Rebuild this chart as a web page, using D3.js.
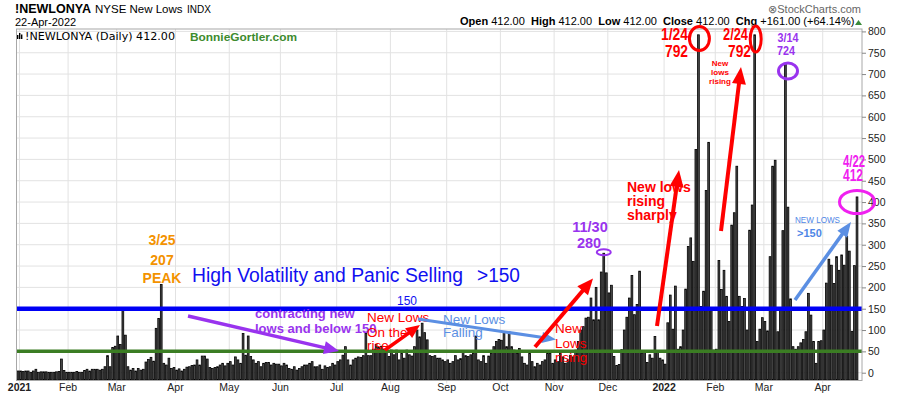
<!DOCTYPE html>
<html>
<head>
<meta charset="utf-8">
<script src="https://cdn.jsdelivr.net/npm/d3@7"></script>
<style>
  body { margin: 0; background: #fff; }
  svg text { font-family: "Liberation Sans", Arial, sans-serif; }
</style>
</head>
<body>
<svg id="chart" width="900" height="396"></svg>
<script>

// Data : daily NYSE new lows, one array per month (trading days)

const jan21 = [4,4,3,4,4,1,4,8,1,2,2,2,1,1,1,2,3,32,5];
const feb21 = [1,1,1,1,3,1,1,5,8,4,8,8,8,6,8,14,40,14,59];
const mar21 = [62,86,66,147,88,14,6,10,4,10,6,8,25,31,36,27,104,127,207,22,18,34,10];
const apr21 = [12,6,9,4,8,13,14,17,18,30,18,39,39,32,12,10,12,14,18,22,16];
const may21 = [22,26,18,37,30,22,92,41,86,38,30,22,26,14,22,24,24,18,22,20];
const jun21 = [20,16,22,18,10,8,14,6,10,14,18,18,22,26,14,14,18,8,16,12,14,22];
const jul21 = [18,26,30,41,61,30,18,30,34,37,36,40,92,40,40,55,66,60,62,55,50];
const aug21 = [38,53,42,53,30,45,34,53,42,39,61,100,84,116,94,77,40,38,40,34,34,30];
const sep21 = [26,30,22,26,40,30,33,50,40,38,42,45,86,30,26,40,22,39,45,61,73];
const oct21 = [78,76,96,61,96,61,53,45,57,37,22,18,45,26,14,22,18,26,30,45,45];
const nov21 = [22,30,26,45,37,22,30,41,37,53,73,100,108,128,130,175,124,200,124,236,280];
const dec21 = [234,187,205,38,17,19,54,100,130,175,228,136,160,238,46,52,24,42,34,85,52,34];
const jan22 = [30,20,117,182,102,203,55,61,100,196,296,316,261,523,792,155,191,427,540,150];
const feb22 = [53,55,263,195,240,179,120,346,375,484,179,155,174,100,334,393,792,73,102];
const mar22 = [129,120,98,272,484,498,96,150,333,724,388,173,61,55,61,70,78,96,186,135,73,22,73];
const apr22 = [75,100,210,266,252,209,272,240,276,252,320,285,97,251,412];

const months = [jan21, feb21, mar21, apr21, may21, jun21, jul21, aug21, sep21, oct21, nov21, dec21,
                jan22, feb22, mar22, apr22];
const monthLabels = ["2021","Feb","Mar","Apr","May","Jun","Jul","Aug","Sep","Oct","Nov","Dec",
                     "2022","Feb","Mar","Apr"];
const yTicks = [0,50,100,150,200,250,300,350,400,450,500,550,600,650,700,750,800];
const levels = [150, 50];                                   // blue and green reference lines

// Flatten the months into one series and remember where each month starts

const data = [];
const monthStart = [];
months.forEach(function(arr) {
    monthStart.push(data.length);
    arr.forEach(function(v) { data.push({i: data.length, v: v}); });
});

// Frame and scales

const plot = {left: 16.5, right: 862, top: 29, bottom: 380.5};
const svg = d3.select("#chart");

const x = d3.scaleBand()
    .domain(d3.range(data.length))
    .range([16.7, 858.3]);
const bw = x.bandwidth();
const y = d3.scaleLinear()
    .domain([-17.1, 808])
    .range([380, 28]);

svg.append("rect").attr("width", 900).attr("height", 396).attr("fill", "#fff");

// Grid

const grid = svg.append("g");
grid.selectAll(".hg").data(yTicks).enter().append("line")
    .attr("x1", plot.left).attr("x2", plot.right)
    .attr("y1", d => y(d)).attr("y2", d => y(d))
    .attr("stroke", "#e2e2e2").attr("stroke-width", 1);
grid.selectAll(".vg").data(monthStart).enter().append("line")
    .attr("x1", d => x(d) + bw / 2 + 1.5).attr("x2", d => x(d) + bw / 2 + 1.5)
    .attr("y1", plot.top).attr("y2", plot.bottom + 3)
    .attr("stroke", "#e2e2e2").attr("stroke-width", 1);

// Bars

svg.append("g").selectAll("rect").data(data).enter().append("rect")
    .attr("x", d => x(d.i) + 0.4)
    .attr("width", bw - 0.8)
    .attr("y", d => y(d.v))
    .attr("height", d => 380 - y(d.v))
    .attr("fill", "#4a4a4a")
    .attr("stroke", "#000")
    .attr("stroke-width", 0.8);

// Reference lines at 150 (blue) and 50 (green)

svg.append("line").attr("x1", plot.left).attr("x2", plot.right)
    .attr("y1", y(levels[0])).attr("y2", y(levels[0]))
    .attr("stroke", "#0000f5").attr("stroke-width", 4.5);
svg.append("line").attr("x1", plot.left).attr("x2", plot.right)
    .attr("y1", y(levels[1])).attr("y2", y(levels[1]))
    .attr("stroke", "#3b7d23").attr("stroke-width", 3.5);

// Frame

svg.append("rect")
    .attr("x", plot.left).attr("y", plot.top)
    .attr("width", plot.right - plot.left).attr("height", plot.bottom - plot.top)
    .attr("fill", "none").attr("stroke", "#a8a8a8").attr("stroke-width", 1);

// Axes

const yAxis = svg.append("g")
    .attr("transform", "translate(" + plot.right + ",0)")
    .call(d3.axisRight(y).tickValues(yTicks).tickSize(4).tickPadding(2));
yAxis.select(".domain").remove();
yAxis.selectAll("line").attr("stroke", "#888");
yAxis.selectAll("text")
    .style("font-family", "'Liberation Sans', Arial, sans-serif")
    .style("font-size", "10.5px").attr("fill", "#222");

svg.append("g").selectAll("text").data(monthStart).enter().append("text")
    .attr("x", d => x(d) + bw / 2 + 1.5)
    .attr("y", 391)
    .attr("text-anchor", "middle")
    .attr("font-size", "10.5px")
    .attr("font-weight", (d, k) => monthLabels[k].length === 4 ? "bold" : "normal")
    .attr("fill", "#222")
    .text((d, k) => monthLabels[k]);

// Header texts

function label(t, px, py, o) {
    o = o || {};
    const el = svg.append("text")
        .attr("x", px).attr("y", py)
        .attr("text-anchor", o.anchor || "start")
        .attr("font-size", (o.size || 11) + "px")
        .attr("font-weight", o.bold ? "bold" : "normal")
        .attr("fill", o.fill || "#000")
        .text(t);
    if (o.family) el.style("font-family", o.family);
    if (o.len) el.attr("textLength", o.len).attr("lengthAdjust", "spacingAndGlyphs");
    return el;
}

label("!NEWLONYA", 15, 13, {size: 12.5, bold: true});
label("NYSE New Lows", 95, 13, {size: 11.5});
label("INDX", 187, 13, {size: 10});
label("22-Apr-2022", 15, 26, {size: 11});
label("\u2297StockCharts.com", 861, 13, {size: 11, anchor: "end", fill: "#666"});

const ohlc = [["Open", "412.00"], ["High", "412.00"], ["Low", "412.00"], ["Close", "412.00"],
              ["Chg", "+161.00 (+64.14%)"]];
const head = svg.append("text").attr("x", 460).attr("y", 25).attr("font-size", "11px");
ohlc.forEach(function(p, k) {
    head.append("tspan").attr("font-weight", "bold").text((k ? "\u00a0\u00a0" : "") + p[0]);
    head.append("tspan").text("\u00a0" + p[1]);
});
svg.append("path").attr("d", "M855,25L862,25L858.5,20Z").attr("fill", "#3a8a3a");

// Chart legend line inside the frame

[[17, 35], [19, 33], [21, 34.5]].forEach(function(b) {
    svg.append("rect").attr("x", b[0]).attr("y", b[1]).attr("width", 1.4).attr("height", 39 - b[1]).attr("fill", "#000");
});
label("!NEWLONYA (Daily) 412.00", 25, 40, {size: 10.5, family: "'DejaVu Sans', Verdana, sans-serif", len: 150});
label("BonnieGortler.com", 190, 41, {size: 11.5, bold: true, fill: "#3d8b2d", len: 107});

// Annotations

const red = "#ff0000", purple = "#9933ee", magenta = "#f020f0", orange = "#f39200",
      lightBlue = "#5b8fe3", blue = "#1010f0";

function arrow(p1, p2, color, w, hl, hw) {
    const dx = p2[0] - p1[0], dy = p2[1] - p1[1], L = Math.hypot(dx, dy);
    const ux = dx / L, uy = dy / L;
    const bx = p2[0] - ux * hl, by = p2[1] - uy * hl;
    svg.append("line")
        .attr("x1", p1[0]).attr("y1", p1[1]).attr("x2", bx + ux).attr("y2", by + uy)
        .attr("stroke", color).attr("stroke-width", w);
    svg.append("path")
        .attr("d", "M" + p2[0] + "," + p2[1] +
                   "L" + (bx - uy * hw / 2) + "," + (by + ux * hw / 2) +
                   "L" + (bx + uy * hw / 2) + "," + (by - ux * hw / 2) + "Z")
        .attr("fill", color);
}

function ring(cx, cy, rx, ry, color, w) {
    svg.append("ellipse").attr("cx", cx).attr("cy", cy).attr("rx", rx).attr("ry", ry)
        .attr("fill", "none").attr("stroke", color).attr("stroke-width", w);
}

label("3/25", 162, 245, {size: 14, bold: true, anchor: "middle", fill: orange});
label("207", 162, 265, {size: 14, bold: true, anchor: "middle", fill: orange});
label("PEAK", 162, 283, {size: 14, bold: true, anchor: "middle", fill: orange});

label("High Volatility and Panic Selling", 192, 282, {size: 20, fill: blue, len: 271});
label(">150", 477, 282, {size: 20, fill: blue, len: 43});
label("150", 397, 305, {size: 12, fill: blue});

arrow([188, 316], [339, 351], purple, 3.5, 15, 13);
label("contracting new", 255, 318, {size: 13, bold: true, fill: purple});
label("lows and below 150", 255, 333, {size: 13, bold: true, fill: purple});

label("New Lows", 367, 322, {size: 13.5, fill: red});
label("On the", 367, 337, {size: 13.5, fill: red});
label("rise", 367, 350, {size: 13.5, fill: red});
arrow([385, 350], [420, 325], red, 3.5, 14, 12);

arrow([418, 319], [556, 339.5], lightBlue, 3, 14, 11);
label("New Lows", 443, 324, {size: 13.5, fill: lightBlue});
label("Falling", 443, 337, {size: 13.5, fill: lightBlue});

arrow([535, 347], [593, 278.5], red, 4, 16, 14);
label("New", 555, 333, {size: 13.5, fill: red});
label("Lows", 555, 348, {size: 13.5, fill: red});
label("rising", 555, 362, {size: 13.5, fill: red});

label("11/30", 590, 232, {size: 14.5, bold: true, anchor: "middle", fill: purple});
label("280", 589, 248, {size: 14.5, bold: true, anchor: "middle", fill: purple});
ring(x(229) + bw / 2, y(280) - 1, 7, 3, purple, 2);

arrow([657, 326], [679, 170], red, 4, 17, 14);
label("New lows", 627, 192, {size: 14, bold: true, fill: red});
label("rising", 627, 206, {size: 14, bold: true, fill: red});
label("sharply", 627, 220, {size: 14, bold: true, fill: red});

label("1/24", 688, 40, {size: 16, bold: true, anchor: "end", fill: red, len: 27});
label("792", 688, 57, {size: 16, bold: true, anchor: "end", fill: red, len: 23});
ring(x(266) + bw / 2 + 1, 38.5, 10, 12, red, 3);

arrow([721, 231], [741, 67], red, 4, 17, 14);
label("New", 720, 66, {size: 8, bold: true, anchor: "middle", fill: red});
label("lows", 720, 75, {size: 8, bold: true, anchor: "middle", fill: red});
label("rising", 720, 84, {size: 8, bold: true, anchor: "middle", fill: red});

label("2/24", 748, 40, {size: 16, bold: true, anchor: "end", fill: red, len: 25});
label("792", 751, 57, {size: 16, bold: true, anchor: "end", fill: red, len: 23});
ring(x(288) + bw / 2 + 1, 39, 5.5, 13, red, 3);

label("3/14", 788, 42, {size: 13, bold: true, anchor: "middle", fill: purple, len: 21});
label("724", 786, 55, {size: 13, bold: true, anchor: "middle", fill: purple, len: 18});
ring(788, 71, 9.5, 8, purple, 3);

arrow([795, 300], [851, 222], lightBlue, 3.5, 15, 12);
label("NEW LOWS", 795, 223, {size: 8.5, fill: "#4f86e6", len: 45});
label(">150", 797, 237, {size: 11, bold: true, fill: "#4f86e6"});

label("4/22", 854, 167, {size: 16, bold: true, anchor: "middle", fill: magenta, len: 22});
label("412", 853, 181, {size: 16, bold: true, anchor: "middle", fill: magenta, len: 20});
ring(857, 202, 17.5, 11.5, magenta, 3);

</script>
</body>
</html>
